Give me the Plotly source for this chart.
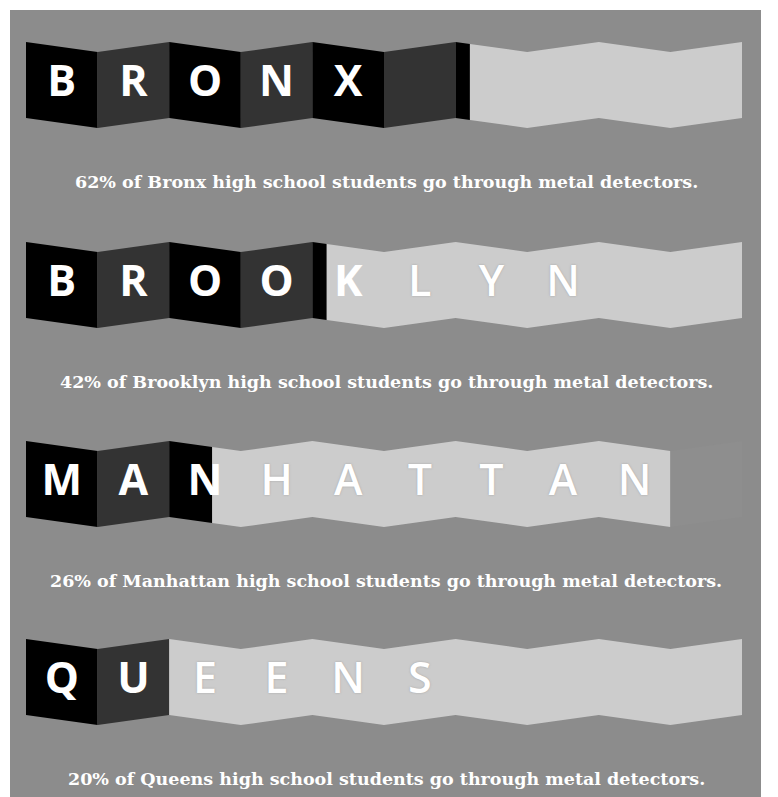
import plotly.graph_objects as go

# ---- data ----
boroughs = ["Bronx", "Brooklyn", "Manhattan", "Queens"]
labels = ["BRONX", "BROOKLYN", "MANHATTAN", "QUEENS"]
percents = [62, 42, 26, 20]
panel_counts = [10, 10, 9, 10]

# ---- layout constants ----
OFF = 8                   # page body margin compensation
W, H = 778 - OFF, 797 - OFF
FULL_PANELS = 10          # 100% == 10 panels
X0, PW = 26 - OFF, 71.6   # ribbon left edge and panel width (px)
ROW_TOP = [t - OFF for t in (42, 242, 441, 639)]
AMP, PH = 10, 76          # zigzag amplitude, panel height
CAP_OFF = 140
BG = "#8c8c8c"
DARK = ["#000000", "#333333"]
LIGHT = "#cccccc"
FAINT = "#8e8e8e"

fig = go.Figure()


def top_at(row_top, u):
    # zigzag top edge at panel-unit position u
    k = int(u)
    f = u - k
    a = row_top + (AMP if k % 2 else 0)
    b = row_top + (AMP if (k + 1) % 2 else 0)
    return a + (b - a) * f


def poly(row_top, u0, u1, color):
    pts = [u0]
    k = int(u0) + 1
    while k < u1:
        pts.append(k)
        k += 1
    pts.append(u1)
    xs = pts + pts[::-1] + [pts[0]]
    ys = [top_at(row_top, u) for u in pts] + [top_at(row_top, u) + PH for u in pts[::-1]] + [top_at(row_top, pts[0])]
    fig.add_trace(go.Scatter(x=xs, y=ys, mode="lines", fill="toself", fillcolor=color,
                             line=dict(width=0, color=color), hoverinfo="skip", showlegend=False))


for i, (name, lab, pct, npan) in enumerate(zip(boroughs, labels, percents, panel_counts)):
    rt = ROW_TOP[i]
    filled = pct / 100 * FULL_PANELS
    nfull = int(filled)
    frac = filled - nfull
    for j in range(nfull):
        poly(rt, j, j + 1, DARK[j % 2])
    if frac > 0:
        poly(rt, nfull, nfull + frac, DARK[nfull % 2])
    poly(rt, filled, npan, LIGHT)
    for j in range(npan, FULL_PANELS):
        poly(rt, j, j + 1, FAINT)
    # letters
    xs = [j + 0.5 for j in range(len(lab))]
    ys = [rt + AMP / 2 + PH / 2] * len(lab)
    dark_idx = [j for j in range(len(lab)) if j < filled]
    light_idx = [j for j in range(len(lab)) if j >= filled]
    fig.add_trace(go.Scatter(x=[xs[j] for j in dark_idx], y=[ys[j] for j in dark_idx],
                             text=[lab[j] for j in dark_idx], mode="text",
                             textfont=dict(family="Open Sans", size=43, color="white", weight=700),
                             hoverinfo="skip", showlegend=False))
    fig.add_trace(go.Scatter(x=[xs[j] for j in light_idx], y=[ys[j] for j in light_idx],
                             text=[lab[j] for j in light_idx], mode="text",
                             textfont=dict(family="Open Sans", size=43, color="white", weight=600,
                                           shadow="0px 0px 2px rgba(140,140,140,0.7)"),
                             hoverinfo="skip", showlegend=False))
    fig.add_annotation(x=(386 - OFF) / W, xref="paper", y=rt + CAP_OFF, yref="y",
                       text=f"{pct}% of {name} high school students go through metal detectors.",
                       showarrow=False, xanchor="center", yanchor="middle",
                       font=dict(family="DejaVu Serif", size=17.5, color="white", weight=700))

xr0 = -X0 / PW
xr1 = (W - X0) / PW
fig.update_layout(
    width=W, height=H, margin=dict(l=0, r=0, t=0, b=0),
    paper_bgcolor="white", plot_bgcolor="white",
    xaxis=dict(range=[xr0, xr1], visible=False, fixedrange=True),
    yaxis=dict(range=[H, 0], visible=False, fixedrange=True),
    shapes=[dict(type="rect", xref="paper", yref="paper", x0=(10 - OFF) / W, x1=(761 - OFF) / W,
                 y0=0, y1=(H - (10 - OFF)) / H, fillcolor=BG, line=dict(width=0), layer="below")],
)
fig.write_html("out.html")
